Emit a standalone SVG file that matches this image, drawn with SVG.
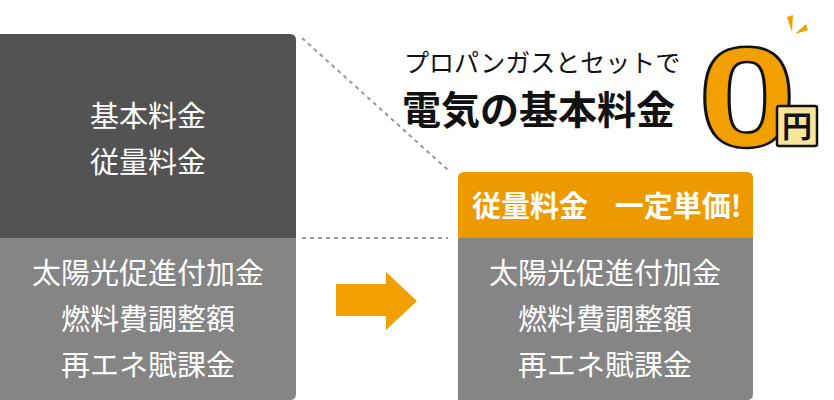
<svg xmlns="http://www.w3.org/2000/svg" width="834" height="400" viewBox="0 0 834 400">
<style>
.w{fill:#fff;font-family:"Noto Sans CJK JP","Noto Sans",sans-serif;font-size:29px;text-anchor:middle}
.dash{stroke:#999;stroke-width:2;stroke-dasharray:4 4;fill:none}
</style>
<rect width="834" height="400" fill="#fff"/>
<g id="connectors">
<path class="dash" d="M302 38 L448 170"/>
<path class="dash" d="M302 238 L448 238"/>
<polygon points="336,284 386,284 386,272 417,301 386,330 386,316 336,316" fill="#F29F00"/>
</g>
<g id="left">
<path d="M0 34 H290 Q296 34 296 40 V238 H0 Z" fill="#535353"/>
<path d="M0 238 H296 V394 Q296 400 290 400 H0 Z" fill="#858585"/>
<text class="w" x="148" y="127">基本料金</text>
<text class="w" x="148" y="173">従量料金</text>
<text class="w" x="148" y="284">太陽光促進付加金</text>
<text class="w" x="148" y="330">燃料費調整額</text>
<text class="w" x="148" y="376">再エネ賦課金</text>
</g>
<g id="right">
<path d="M458 178 Q458 172 464 172 H747 Q753 172 753 178 V238 H458 Z" fill="#ED9A00"/>
<path d="M458 238 H753 V394 Q753 400 747 400 H458 Z" fill="#858585"/>
<text class="w" x="530" y="217" font-weight="bold" font-size="26">従量料金</text>
<text class="w" x="678" y="217" font-weight="bold" font-size="26">一定単価!</text>
<text class="w" x="605" y="284">太陽光促進付加金</text>
<text class="w" x="605" y="330">燃料費調整額</text>
<text class="w" x="605" y="376">再エネ賦課金</text>
</g>
<g id="title">
<text x="404" y="72" font-family="Noto Sans CJK JP,sans-serif" font-size="25" fill="#111">プロパンガスとセットで</text>
<text x="402" y="124" font-family="Noto Sans CJK JP,sans-serif" font-size="39" font-weight="bold" fill="#111">電気の基本料金</text>
<text transform="translate(747,147) scale(1.25,1)" font-family="Liberation Sans,Arial,sans-serif" font-size="142" font-weight="bold" fill="#F29F00" stroke="#111" stroke-width="2.5" text-anchor="middle">0</text>
<rect x="777" y="106" width="40" height="40" rx="2" fill="#F8E59C" stroke="#111" stroke-width="2.5"/>
<text x="797" y="137" font-family="Noto Sans CJK JP,sans-serif" font-size="30" font-weight="bold" fill="#111" text-anchor="middle">円</text>
<polygon points="787,17 793,15 792,32" fill="#F29F00"/>
<polygon points="806,24 808,30 795,34" fill="#F29F00"/>
</g>
</svg>
